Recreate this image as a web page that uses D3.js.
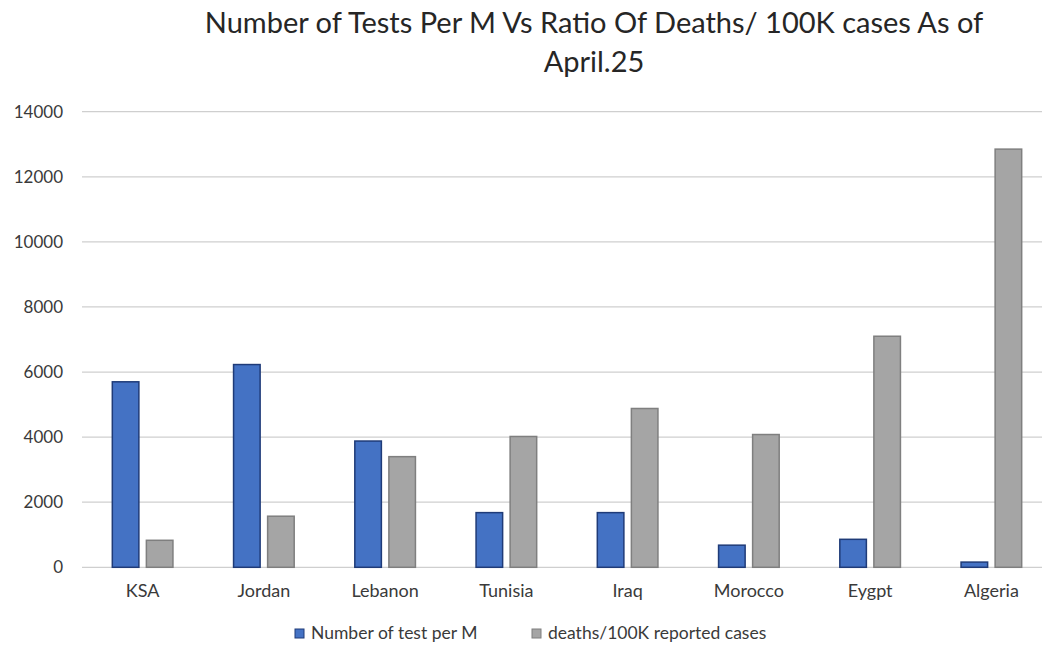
<!DOCTYPE html>
<html>
<head>
<meta charset="utf-8">
<script src="https://cdn.jsdelivr.net/npm/d3@7"></script>
<style>
  body { margin: 0; background: #fff; }
  text { font-family: Lato, "Open Sans", sans-serif; }
</style>
</head>
<body>
<svg id="chart" width="1042" height="647"></svg>
<script>
const categories = ["KSA", "Jordan", "Lebanon", "Tunisia", "Iraq", "Morocco", "Eygpt", "Algeria"];
const testsPerM = [5700, 6230, 3880, 1680, 1680, 680, 860, 160];
const deathsPer100K = [830, 1570, 3400, 4020, 4880, 4080, 7100, 12850];
const seriesNames = ["Number of test per M", "deaths/100K reported cases"];
const yTicks = [0, 2000, 4000, 6000, 8000, 10000, 12000, 14000];
const titleLines = ["Number of Tests Per M Vs Ratio Of Deaths/ 100K cases As of", "April.25"];

const fills = ["#4472C4", "#A5A5A5"];
const strokes = ["#1F3B78", "#7F7F7F"];

const svg = d3.select("#chart");
const plotLeft = 82, plotRight = 1052, plotTop = 111.7, plotBottom = 567.3;

const x0 = d3.scaleBand().domain(categories).range([plotLeft, plotRight]).paddingInner(0.5).paddingOuter(0.25);
const x1 = d3.scaleBand().domain([0, 1]).range([0, x0.bandwidth()]).paddingInner(0.22);
const y = d3.scaleLinear().domain([0, 14000]).range([plotBottom, plotTop]);

// gridlines
svg.append("g").selectAll("line").data(yTicks).join("line")
  .attr("x1", plotLeft).attr("x2", plotRight)
  .attr("y1", d => y(d)).attr("y2", d => y(d))
  .attr("stroke", "#cfcfcf").attr("stroke-width", 1.3);

// y axis labels
const yAxis = d3.axisLeft(y).tickValues(yTicks).tickSize(0).tickPadding(19).tickFormat(d3.format("d"));
const ya = svg.append("g").attr("transform", `translate(${plotLeft},0)`).call(yAxis);
ya.select(".domain").remove();
ya.selectAll("text").attr("font-size", 17).attr("fill", "#3a3a3a").attr("font-family", "Lato, 'Open Sans', sans-serif");

// x axis labels
const xAxis = d3.axisBottom(x0).tickSize(0).tickPadding(17);
const xa = svg.append("g").attr("transform", `translate(0,${plotBottom})`).call(xAxis);
xa.select(".domain").remove();
xa.selectAll("text").attr("font-size", 18).attr("fill", "#3a3a3a").attr("font-family", "Lato, 'Open Sans', sans-serif");

// bars
const rows = categories.map((c, i) => ({ c, vals: [testsPerM[i], deathsPer100K[i]] }));
const groups = svg.append("g").selectAll("g").data(rows).join("g")
  .attr("transform", d => `translate(${x0(d.c)},0)`);
groups.selectAll("rect").data(d => d.vals.map((v, k) => ({ v, k }))).join("rect")
  .attr("x", d => x1(d.k))
  .attr("width", x1.bandwidth())
  .attr("y", d => y(d.v))
  .attr("height", d => y(0) - y(d.v))
  .attr("fill", d => fills[d.k])
  .attr("stroke", d => strokes[d.k])
  .attr("stroke-width", 1.5);

// title
svg.append("g").selectAll("text").data(titleLines).join("text")
  .attr("x", 594).attr("y", (d, i) => 33 + i * 39)
  .attr("text-anchor", "middle")
  .attr("font-size", 29)
  .attr("fill", "#262626")
  .text(d => d);

// legend
const legendX = [295, 532];
const lg = svg.append("g").selectAll("g").data(seriesNames).join("g")
  .attr("transform", (d, i) => `translate(${legendX[i]},633)`);
lg.append("rect").attr("x", 0).attr("y", -4).attr("width", 9).attr("height", 9)
  .attr("fill", (d, i) => fills[i]).attr("stroke", (d, i) => strokes[i]);
lg.append("text").attr("x", 16).attr("y", 6).attr("font-size", 17.5).attr("fill", "#3a3a3a").text(d => d);
</script>
</body>
</html>
